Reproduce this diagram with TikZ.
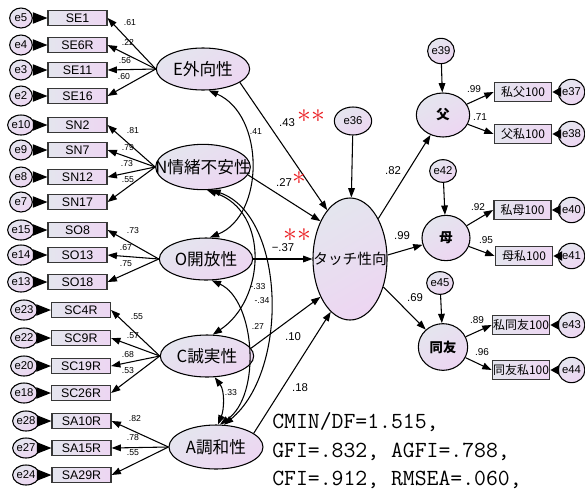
\documentclass[tikz,border=0pt]{standalone}
\usepackage{fontspec}
\setmainfont{Liberation Sans}
\newfontfamily\jp{Noto Sans CJK JP}
\usetikzlibrary{shapes.geometric,arrows.meta}
\definecolor{ga}{RGB}{228,229,238}
\definecolor{gb}{RGB}{237,214,242}
\definecolor{bd}{RGB}{55,55,55}
\definecolor{rd}{RGB}{235,30,35}
\tikzset{
 obs/.style={rectangle, draw=bd, line width=1.1pt, left color=ga, right color=gb, minimum width=44pt, minimum height=11.5pt, inner sep=0pt, font=\fontsize{9.3}{10}\selectfont},
 robs/.style={rectangle, draw=bd, line width=1.1pt, left color=ga, right color=gb, minimum width=43pt, minimum height=14pt, inner sep=0pt, font=\jp\fontsize{9}{10}\selectfont},
 err/.style={ellipse, draw, line width=0.8pt, top color=ga, bottom color=gb, shading angle=30, minimum width=17pt, minimum height=15pt, inner sep=0pt, font=\fontsize{8.5}{9}\selectfont},
 rerr/.style={err, minimum width=16.5pt, minimum height=19pt},
 lat/.style={ellipse, draw, line width=0.8pt, top color=ga, bottom color=gb, shading angle=30, minimum width=70pt, minimum height=31.5pt, inner sep=0pt, font=\jp\fontsize{12.5}{13}\selectfont},
 fac/.style={ellipse, draw, line width=0.8pt, top color=ga, bottom color=gb, shading angle=30, inner sep=0pt, font=\jp\bfseries\fontsize{10}{11}\selectfont},
 arr/.style={line width=0.8pt, -{Triangle[length=7pt,width=5pt]}},
 earr/.style={line width=0.8pt, -{Triangle[length=11pt,width=8.5pt]}},
 rearr/.style={line width=0.8pt, -{Triangle[length=6.5pt,width=7pt]}},
 cov/.style={line width=0.8pt, {Triangle[length=7pt,width=5pt]}-{Triangle[length=7pt,width=5pt]}},
 ld/.style={inner sep=0pt, font=\fontsize{6.5}{7}\selectfont},
 sp/.style={inner sep=0pt, font=\fontsize{8.5}{9}\selectfont},
 rp/.style={inner sep=0pt, font=\fontsize{7.5}{8}\selectfont},
 star/.style={inner sep=0pt, text=rd, font=\fontsize{20}{20}\selectfont},
 fitline/.style={inner sep=0pt, anchor=base west, font=\ttfamily\fontsize{17.3}{20}\selectfont},
}
\begin{document}
\begin{tikzpicture}[x=0.75pt,y=-0.75pt]
\fill[white] (0,0) rectangle (585,497);
\useasboundingbox (0,0) rectangle (585,497);

% latent factors
\node[lat] (E) at (203,69) {\makebox[0pt]{E外向性}};
\node[lat, minimum width=71pt, minimum height=34pt] (N) at (203,167) {\makebox[0pt]{N情緒不安性}};
\node[lat] (O) at (206,259) {\makebox[0pt]{O開放性}};
\node[lat] (C) at (207,356) {\makebox[0pt]{C誠実性}};
\node[lat, minimum width=70.5pt, minimum height=33pt] (A) at (216,447) {\makebox[0pt]{A調和性}};
\node[lat, minimum width=55.5pt, minimum height=91.5pt, font=\jp\fontsize{11}{12}\selectfont] (T) at (350,259) {\makebox[0pt]{タッチ性向}};
\node[err, minimum width=28pt, minimum height=21pt] (e36) at (353,121) {e36};

% left indicators
\foreach \n/\e/\y/\ex/\bx in {SE1/e5/18/21/77.5, SE6R/e4/45/21/77.5, SE11/e3/70/21/77.5, SE16/e2/96/21/77.5,
  SN2/e10/125/21/77.5, SN7/e9/150/21/77.5, SN12/e8/177/21/77.5, SN17/e7/202/21/77.5,
  SO8/e15/230/21/77.5, SO13/e14/255/21/77.5, SO18/e13/282/21/77.5,
  SC4R/e23/310/24/81, SC9R/e22/338/24/81, SC19R/e20/366/24/81, SC26R/e18/393/24/81,
  SA10R/e28/421/26/81.5, SA15R/e27/448/26/81.5, SA29R/e24/475/26/81.5}{
  \node[obs] (\n) at (\bx,\y) {\n};
  \node[err] (\e) at (\ex,\y) {\e};
  \draw[earr] (\e) -- (\n.west);
}
\foreach \n in {SE1,SE6R,SE11,SE16} \draw[arr] (E.west) -- (\n.east);
\foreach \n in {SN2,SN7,SN12,SN17} \draw[arr] (N.west) -- (\n.east);
\foreach \n in {SO8,SO13,SO18} \draw[arr] (O.west) -- (\n.east);
\foreach \n in {SC4R,SC9R,SC19R,SC26R} \draw[arr] (C.west) -- (\n.east);
\foreach \n in {SA10R,SA15R,SA29R} \draw[arr] (A.west) -- (\n.east);

% loading labels
\node[ld] (lE1) at (130,23) {.61};
\node[ld] (lE2) at (128,42) {.22};
\node[ld] (lE3) at (125,61) {.56};
\node[ld] (lE4) at (124,77) {.60};
\node[ld] (lN1) at (133,131) {.81};
\node[ld] (lN2) at (128,148) {.79};
\node[ld] (lN3) at (127,164) {.73};
\node[ld] (lN4) at (128,180) {.55};
\node[ld] (lO1) at (133,231) {.73};
\node[ld] (lO2) at (126,248) {.67};
\node[ld] (lO3) at (126,264) {.75};
\node[ld] (lC1) at (137,317) {.55};
\node[ld] (lC2) at (133,336) {.57};
\node[ld] (lC3) at (128,355) {.68};
\node[ld] (lC4) at (128,371) {.53};
\node[ld] (lA1) at (135,419) {.82};
\node[ld] (lA2) at (133,438) {.78};
\node[ld] (lA3) at (133,453) {.55};

% covariances
\draw[cov] (E.-75) .. controls (265,115) and (265,215) .. (O.80);
\draw[cov] (N.-80) .. controls (270,212) and (265,300) .. (C.75);
\draw[cov] (N.-70) .. controls (285,215) and (290,370) .. (A.70);
\draw[cov] (O.-75) .. controls (255,300) and (262,395) .. (A.80);
\draw[cov] (C.-70) .. controls (225,391) and (224,410) .. (A.85);
\node[ld] (c1) at (256,132) {.41};
\node[ld] (c2) at (258,287) {-.33};
\node[ld] (c3) at (262,301) {-.34};
\node[ld] (c4) at (258,326) {.27};
\node[ld] (c5) at (231,393) {.33};

% structural paths
\draw[arr] (E.-20) -- (T.115);
\draw[arr] (N.-10) -- (T.128);
\draw[arr] (O.east) -- (T.west);
\draw[arr] (C.10) -- (T.232);
\draw[arr] (A.20) -- (T.250);
\draw[arr] (e36) -- (T);
\node[sp] (p1) at (287,123) {.43};
\node[sp] (p2) at (284,183) {.27};
\node[sp] (p3) at (283,248) {−.37};
\node[sp] (p4) at (293,337) {.10};
\node[sp] (p5) at (300,388) {.18};
\node[star] (s1) at (311,116) {${\ast}{\ast}$};
\node[star] (s2) at (299,178) {${\ast}$};
\node[star] (s3) at (297,235) {${\ast}{\ast}$};

% right side
\node[fac, minimum width=40pt, minimum height=33pt] (F) at (443,115) {父};
\node[fac, minimum width=36pt, minimum height=34pt] (M) at (446,238) {母};
\node[fac, minimum width=37pt, minimum height=35pt] (D) at (443,347) {同友};
\node[err, minimum width=18pt, minimum height=19pt] (e39) at (441,51) {e39};
\node[err, minimum width=18pt, minimum height=17pt] (e42) at (443,171) {e42};
\node[err, minimum width=18pt, minimum height=17pt] (e45) at (440,283) {e45};
\draw[arr] (e39) -- (F);
\draw[arr] (e42) -- (M);
\draw[arr] (e45) -- (D);
\draw[arr] (T.55) -- (F);
\draw[arr] (T.6) -- (M);
\draw[arr] (T.-40) -- (D);
\node[sp] (r1) at (393,171) {.82};
\node[sp] (r2) at (402,236) {.99};
\node[sp] (r3) at (415,298) {.69};

\foreach \n/\t/\e/\y/\bx in {PF/私父100/e37/92/523, FP/父私100/e38/134/523,
  PM/私母100/e40/210/522.5, MP/母私100/e41/256/524,
  PD/私同友100/e43/325/521, DP/同友私100/e44/370/521}{
  \node[robs] (\n) at (\bx,\y) {\t};
  \node[rerr] (\e) at (571.5,\y) {\e};
  \draw[rearr] (\e) -- (\n.east);
}
\draw[arr] (F) -- (PF.west);
\draw[arr] (F) -- (FP.west);
\draw[arr] (M) -- (PM.west);
\draw[arr] (M) -- (MP.west);
\draw[arr] (D) -- (PD.west);
\draw[arr] (D) -- (DP.west);
\node[rp] (q1) at (474,89) {.99};
\node[rp] (q2) at (480,117) {.71};
\node[rp] (q3) at (478,207) {.92};
\node[rp] (q4) at (486,240) {.95};
\node[rp] (q5) at (477,320) {.89};
\node[rp] (q6) at (482,352) {.96};

% fit indices
\node[fitline] (fit1) at (272,428) {CMIN/DF=1.515,};
\node[fitline] (fit2) at (272,457) {GFI=.832, AGFI=.788,};
\node[fitline] (fit3) at (272,485) {CFI=.912, RMSEA=.060,};
\end{tikzpicture}
\end{document}
